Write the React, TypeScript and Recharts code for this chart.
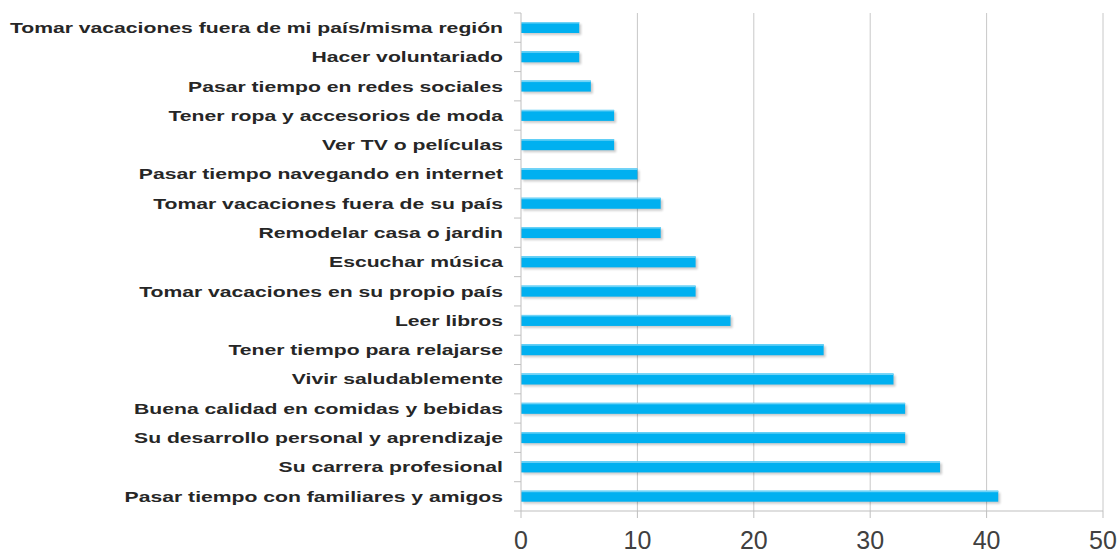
import { BarChart, Bar, XAxis, YAxis, CartesianGrid } from 'recharts';

const CATEGORIES = [
  'Tomar vacaciones fuera de mi país/misma región',
  'Hacer voluntariado',
  'Pasar tiempo en redes sociales',
  'Tener ropa y accesorios de moda',
  'Ver TV o películas',
  'Pasar tiempo navegando en internet',
  'Tomar vacaciones fuera de su país',
  'Remodelar casa o jardin',
  'Escuchar música',
  'Tomar vacaciones en su propio país',
  'Leer libros',
  'Tener tiempo para relajarse',
  'Vivir saludablemente',
  'Buena calidad en comidas y bebidas',
  'Su desarrollo personal y aprendizaje',
  'Su carrera profesional',
  'Pasar tiempo con familiares y amigos',
];

const VALUES = [5, 5, 6, 8, 8, 10, 12, 12, 15, 15, 18, 26, 32, 33, 33, 36, 41];

const X_TICKS = [0, 10, 20, 30, 40, 50];

const data = CATEGORIES.map((name, i) => ({ name, value: VALUES[i] }));

const BAR_COLOR = '#00b0f0';
const AXIS_COLOR = '#bfbfbf';
const FONT = "'Liberation Sans', Arial, sans-serif";

// category labels are drawn wide (stretched), ticks sit on band boundaries
function CategoryTick(props: any) {
  const { x, y, payload, index } = props;
  const half = payload.offset ?? 0;
  const last = index === CATEGORIES.length - 1;
  const ax = x + 6;
  return (
    <g>
      <line x1={ax - 7} x2={ax} y1={y - half} y2={y - half} stroke={AXIS_COLOR} />
      {last && <line x1={ax - 7} x2={ax} y1={y + half} y2={y + half} stroke={AXIS_COLOR} />}
      <text
        transform={`translate(${ax - 18},${y}) scale(1.41,1)`}
        x={0}
        y={0}
        textAnchor="end"
        dominantBaseline="central"
        fontFamily={FONT}
        fontWeight="bold"
        fontSize={15}
        fill="#262626"
      >
        {payload.value}
      </text>
    </g>
  );
}

function ShadowBar(props: any) {
  const { x, y, width, height } = props;
  if (!width || width <= 0) return null;
  return (
    <g>
      <rect x={x + 2} y={y + 2} width={width} height={height} fill="#000" opacity={0.2} filter="url(#barBlur)" />
      <rect x={x} y={y} width={width} height={height} fill={BAR_COLOR} />
      <rect x={x} y={y} width={width} height={1.5} fill="#6fd3f7" />
    </g>
  );
}

export default function App() {
  return (
    <>
      <style>{'html,body{margin:0;padding:0;overflow:hidden;background:#fff}'}</style>
      <div style={{ position: 'absolute', left: 0, top: 0, width: 1118, height: 554 }}>
        <BarChart
          width={1118}
          height={554}
          data={data}
          layout="vertical"
          margin={{ top: 13, right: 15, bottom: 0, left: 0 }}
          barCategoryGap={0}
        >
          <defs>
            <filter id="barBlur" x="-10%" y="-50%" width="120%" height="200%">
              <feGaussianBlur stdDeviation="1.2" />
            </filter>
          </defs>
          <CartesianGrid horizontal={false} vertical stroke="#c8c8c8" verticalValues={X_TICKS.slice(1)} />
          <XAxis
            type="number"
            domain={[0, 50]}
            ticks={X_TICKS}
            height={43}
            stroke={AXIS_COLOR}
            tickSize={7}
            tickMargin={13}
            tick={{ fill: '#404040', fontSize: 25, fontFamily: FONT }}
          />
          <YAxis
            type="category"
            dataKey="name"
            width={521}
            stroke={AXIS_COLOR}
            tickLine={false}
            tickMargin={0}
            tick={<CategoryTick />}
            interval={0}
          />
          <Bar dataKey="value" barSize={11} shape={<ShadowBar />} isAnimationActive={false} />
        </BarChart>
      </div>
    </>
  );
}
